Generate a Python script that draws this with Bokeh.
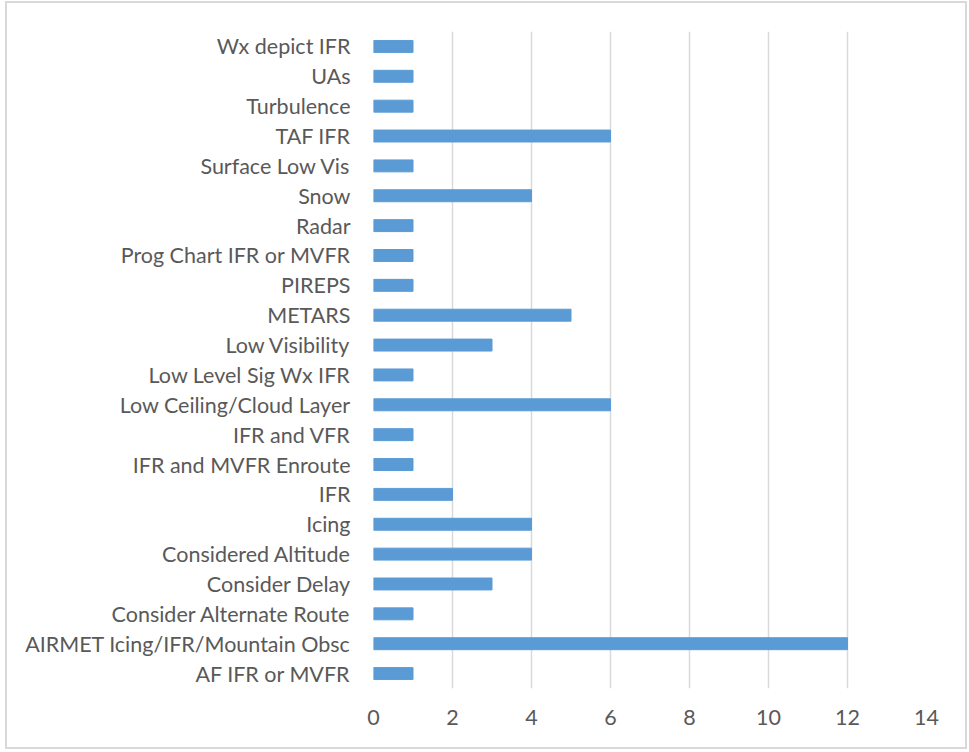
from bokeh.plotting import figure
from bokeh.layouts import column
from bokeh.embed import file_html
from bokeh.resources import INLINE
from bokeh.models import FixedTicker

categories = ["AF IFR or MVFR", "AIRMET Icing/IFR/Mountain Obsc", "Consider Alternate Route",
              "Consider Delay", "Considered Altitude", "Icing", "IFR", "IFR and MVFR Enroute",
              "IFR and VFR", "Low Ceiling/Cloud Layer", "Low Level Sig Wx IFR", "Low Visibility",
              "METARS", "PIREPS", "Prog Chart IFR or MVFR", "Radar", "Snow", "Surface Low Vis",
              "TAF IFR", "Turbulence", "UAs", "Wx depict IFR"]
counts = [1, 12, 1, 3, 4, 4, 2, 1, 1, 6, 1, 3, 5, 1, 1, 1, 4, 1, 6, 1, 1, 1]
x_ticks = [0, 2, 4, 6, 8, 10, 12, 14]

p = figure(width=958, height=744, y_range=categories, x_range=(0, 14),
           output_backend="svg", toolbar_location=None,
           min_border_left=366, min_border_right=39, min_border_top=28, min_border_bottom=59)
p.y_range.range_padding = 0

p.hbar(y=categories, right=counts, left=0, height=0.4, color="#5B9BD5")

p.outline_line_color = None
p.xgrid.ticker = FixedTicker(ticks=x_ticks)
p.xaxis.ticker = FixedTicker(ticks=x_ticks)
p.xgrid.grid_line_color = "#d9d9d9"
p.xgrid.grid_line_width = 1.5
p.ygrid.grid_line_color = None

for ax in (p.xaxis[0], p.yaxis[0]):
    ax.axis_line_color = None
    ax.major_tick_line_color = None
    ax.minor_tick_line_color = None
    ax.major_label_text_color = "#595959"
    ax.major_label_text_font = "Lato"
    ax.major_label_text_font_size = "21.5px"
p.xaxis.major_label_standoff = 15
p.yaxis.major_label_standoff = 17

layout = column(p, styles={"border": "2px solid #d9d9d9", "margin-left": "5px",
                           "margin-top": "1px"})

open("out.html", "w").write(file_html(layout, INLINE))
